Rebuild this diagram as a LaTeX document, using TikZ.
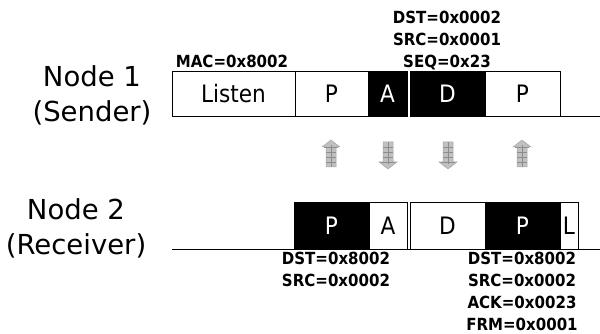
\documentclass[tikz,border=0pt]{standalone}
\usepackage{fontspec}
\setmainfont[FakeStretch=0.9]{DejaVu Sans}
\newfontfamily\sidefont{DejaVu Sans}
\begin{document}
\begin{tikzpicture}[x=1pt,y=-1pt,
  slot/.style={draw=black, line width=0.8pt, inner sep=0pt, outer sep=0pt, anchor=north west, font=\fontsize{24}{24}\selectfont},
  wslot/.style={slot, fill=white, text=black},
  bslot/.style={slot, fill=black, text=white},
  lbl/.style={font=\bfseries\fontsize{16.7}{22}\selectfont, align=center, inner sep=0pt, text depth=0pt},
  side/.style={font=\sidefont\fontsize{27.5}{35}\selectfont, align=center, inner sep=0pt, text depth=0pt},
  axis/.style={draw=black, line width=0.8pt},
  blockarrow/.pic={
    \fill[fill={rgb,255:red,192;green,192;blue,192}] (-5,0) -- (-5,-20) -- (-9,-20) -- (0,-27) -- (9,-20) -- (5,-20) -- (5,0) -- cycle;
    \draw[draw={rgb,255:red,140;green,140;blue,140}, line width=0.5pt] (0,0) -- (0,-22)
      (-5,-5) -- (5,-5) (-5,-10) -- (5,-10) (-5,-15) -- (5,-15) (-7,-20) -- (7,-20);
    \draw[draw={rgb,255:red,165;green,165;blue,165}, line width=0.5pt] (-5,0) -- (-5,-20) -- (-9,-20) -- (0,-27) -- (9,-20) -- (5,-20) -- (5,0) -- cycle;
  }]
\useasboundingbox (0,0) rectangle (600,334);

% Node 1 (sender) row
\coordinate (e1) at (600,116);
\node[wslot, minimum width=123pt, minimum height=45pt] (listen) at (172,71) {Listen};
\node[wslot, minimum width=73pt, minimum height=45pt] (p1) at (295,71) {P};
\node[bslot, minimum width=39pt, minimum height=45pt] (a1) at (368,71) {A};
\node[bslot, minimum width=75pt, minimum height=45pt] (d1) at (410,71) {D};
\node[wslot, minimum width=75pt, minimum height=45pt] (p2) at (485,71) {P};
\draw[axis] (p2.south east) -- (e1);

% Node 2 (receiver) row
\coordinate (s2) at (172,249);
\coordinate (e2) at (600,249);
\draw[axis] (s2) -- (e2);
\node[bslot, minimum width=75pt, minimum height=47pt] (p3) at (294,202) {P};
\node[wslot, minimum width=38pt, minimum height=47pt] (a2) at (369,202) {A};
\node[wslot, minimum width=75pt, minimum height=47pt] (d2) at (410,202) {D};
\node[bslot, minimum width=75pt, minimum height=47pt] (p4) at (485,202) {P};
\node[wslot, minimum width=18pt, minimum height=47pt] (l2) at (560,202) {L};

% side labels
\node[side, anchor=south] (n1) at (92,122) {Node 1\\(Sender)};
\node[side, anchor=south] (n2) at (76,255) {Node 2\\(Receiver)};

% field labels
\node[lbl, anchor=south] (mac) at (232,68) {MAC=0x8002};
\node[lbl, anchor=south] (dhdr) at (447,68) {DST=0x0002\\SRC=0x0001\\SEQ=0x23};
\node[lbl, anchor=north] (phdr) at (336,252) {DST=0x8002\\SRC=0x0002};
\node[lbl, anchor=north] (ahdr) at (522,252) {DST=0x8002\\SRC=0x0002\\ACK=0x0023\\FRM=0x0001};

% transfer arrows
\pic at (331,167) {blockarrow};
\pic[rotate=180] at (388,142) {blockarrow};
\pic[rotate=180] at (448,142) {blockarrow};
\pic at (522,167) {blockarrow};
\end{tikzpicture}
\end{document}
